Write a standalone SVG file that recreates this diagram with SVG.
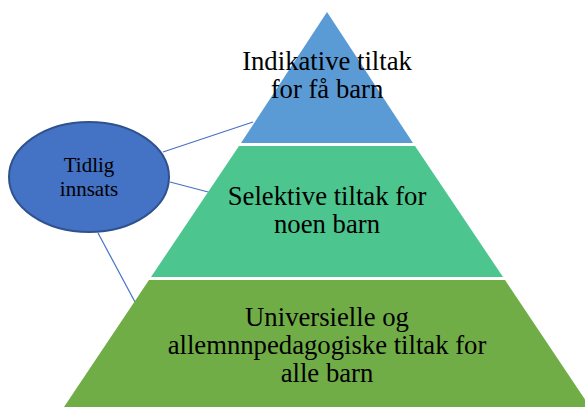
<svg xmlns="http://www.w3.org/2000/svg" width="585" height="407" viewBox="0 0 585 407">
  <style>
    .lbl { font-family: "Liberation Serif", "Times New Roman", serif; font-size: 26.7px; fill: #000; text-anchor: middle; }
    .small { font-size: 21px; }
    .conn { stroke: #4472C4; stroke-width: 1.2; fill: none; }
  </style>
  <rect width="585" height="407" fill="#fff"/>
  <g id="connectors">
    <line class="conn" x1="163" y1="152" x2="253" y2="122"/>
    <line class="conn" x1="170" y1="182" x2="212" y2="193"/>
    <line class="conn" x1="98" y1="233" x2="135" y2="302"/>
  </g>
  <g id="level-top">
    <polygon points="327,12 413,143 241,143" fill="#5B9BD5"/>
    <text class="lbl" x="327" y="70">Indikative tiltak</text>
    <text class="lbl" x="327" y="98">for få barn</text>
  </g>
  <g id="level-middle">
    <polygon points="239,146 415,146 503,277 151,277" fill="#4DC58E"/>
    <text class="lbl" x="327" y="205">Selektive tiltak for</text>
    <text class="lbl" x="327" y="233">noen barn</text>
  </g>
  <g id="level-bottom">
    <polygon points="149,280 505,280 590,407 64,407" fill="#70AD47"/>
    <text class="lbl" x="327" y="326">Universielle og</text>
    <text class="lbl" x="327" y="354">allemnnpedagogiske tiltak for</text>
    <text class="lbl" x="327" y="382">alle barn</text>
  </g>
  <g id="early-effort">
    <ellipse cx="89" cy="177" rx="80" ry="55" fill="#4472C4" stroke="#2F528F" stroke-width="2"/>
    <text class="lbl small" x="89" y="172">Tidlig</text>
    <text class="lbl small" x="89" y="196">innsats</text>
  </g>
</svg>
